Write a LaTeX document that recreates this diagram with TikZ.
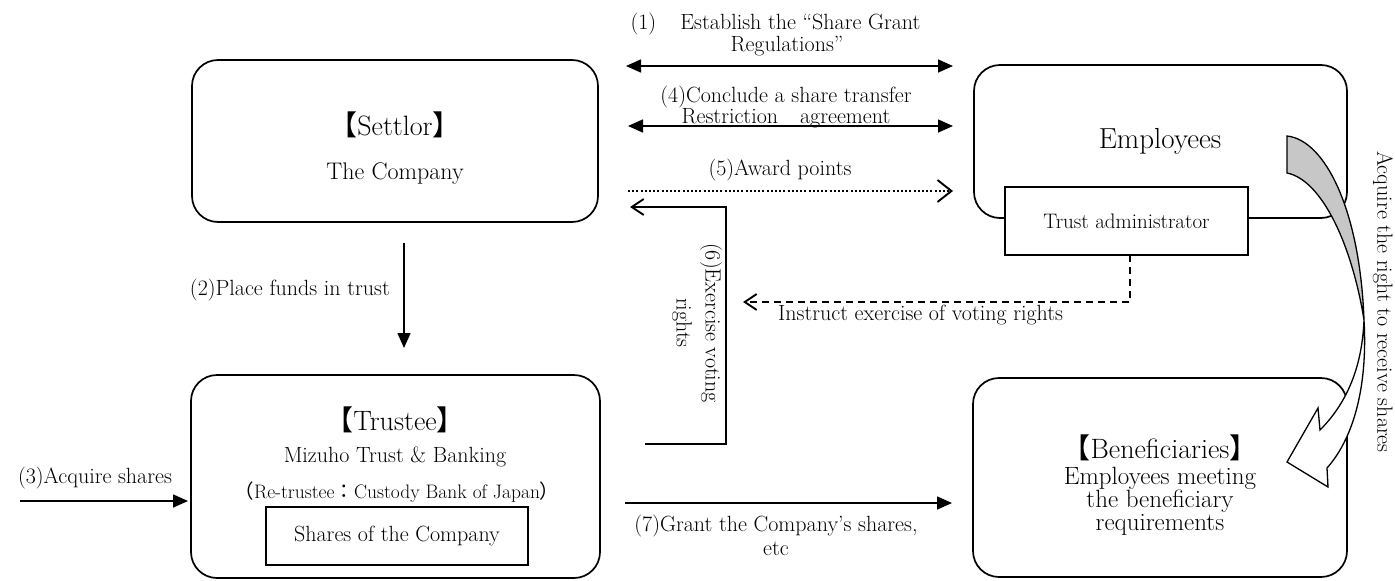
\documentclass[tikz,border=0pt]{standalone}
\usepackage{fontspec}
\newfontfamily\cjk{Noto Sans CJK JP}
\usetikzlibrary{arrows.meta}
\newcommand{\lb}{{\cjk 【}}
\newcommand{\rb}{{\cjk 】}}
\begin{document}
\begin{tikzpicture}[x=1pt,y=-1pt,
  bigbox/.style={draw, line width=1.7pt, rounded corners=26pt, fill=white, inner sep=0pt},
  sqbox/.style={draw, line width=1.7pt, fill=white, inner sep=0pt},
  txt/.style={inner sep=0pt, align=center},
  ttl/.style={txt, font=\fontsize{28}{30}\selectfont},
  body/.style={txt, font=\fontsize{24}{26}\selectfont},
  lbl/.style={txt, font=\fontsize{22}{22}\selectfont},
  conn/.style={line width=1.6pt},
  tri/.style={conn, -{Triangle[length=15pt,width=13pt]}},
  dtri/.style={conn, {Triangle[length=15pt,width=13pt]}-{Triangle[length=15pt,width=13pt]}},
  barb/.style={conn, -{Straight Barb[length=12pt,width=16pt,line width=1.9pt]}}
]
\useasboundingbox (0,0) rectangle (1395,581);

% boxes
\node[bigbox, minimum width=406pt, minimum height=162pt] (settlor) at (395,141) {};
\node[bigbox, minimum width=409pt, minimum height=203pt] (trustee) at (395.5,476.5) {};
\node[bigbox, minimum width=373pt, minimum height=153pt] (employees) at (1160.5,141.5) {};
\node[bigbox, minimum width=374pt, minimum height=199pt] (benef) at (1160,477.5) {};
\node[sqbox, minimum width=243pt, minimum height=68pt] (admin) at (1126.5,221) {};
\node[sqbox, minimum width=262pt, minimum height=58pt] (shares) at (397,536) {};

% box texts
\node[ttl] (settlorT) at (395,125) {\lb Settlor\rb};
\node[body] (settlorB) at (395,174) {The Company};
\node[ttl] (trusteeT) at (395,420) {\lb Trustee\rb};
\node[lbl] (trusteeB) at (395,457) {Mizuho Trust \& Banking};
\node[txt, font=\fontsize{19.5}{20}\selectfont] (retrustee) at (397,492) {{\cjk （}Re-trustee{\cjk ：}Custody Bank of Japan{\cjk ）}};
\node[lbl] (sharesT) at (397,536) {Shares of the Company};
\node[txt, font=\fontsize{29}{30}\selectfont] (employeesT) at (1160,141) {Employees};
\node[txt, font=\fontsize{21}{22}\selectfont] (adminT) at (1126.5,221) {Trust administrator};
\node[ttl] (benefT) at (1160,448) {\lb Beneficiaries\rb};
\node[txt, font=\fontsize{25}{23}\selectfont] (benefB) at (1160,501) {Employees meeting\\the beneficiary\\requirements};

% coordinates
\coordinate (a1l) at (626,66);  \coordinate (a1r) at (953,66);
\coordinate (a4l) at (628,126); \coordinate (a4r) at (953,126);
\coordinate (a5l) at (628,191); \coordinate (a5r) at (953,191);
\coordinate (a2t) at (404,243); \coordinate (a2b) at (404,348);
\coordinate (a3l) at (20,501);  \coordinate (a3r) at (188,501);
\coordinate (a7l) at (625,503); \coordinate (a7r) at (952,503);
\coordinate (a6s) at (645,444); \coordinate (a6c1) at (726,444);
\coordinate (a6c2) at (726,207); \coordinate (a6e) at (630,207);
\coordinate (dsa) at (1130,255); \coordinate (dc) at (1130,302); \coordinate (de) at (743,302);

% connectors
\draw[dtri] (a1l) -- (a1r);
\draw[dtri] (a4l) -- (a4r);
\draw[conn, line width=2pt, dash pattern=on 2pt off 2.2pt, -{Straight Barb[length=14pt,width=22pt,line width=1.9pt]}] (a5l) -- (a5r);
\draw[tri] (a2t) -- (a2b);
\draw[tri] (a3l) -- (a3r);
\draw[tri] (a7l) -- (a7r);
\draw[barb] (a6s) -- (a6c1) -- (a6c2) -- (a6e);
\draw[barb, dash pattern=on 7pt off 5pt] (dsa) -- (dc) -- (de);

% labels
\node[lbl] (l1a) at (775.5,24) {(1)\hspace{1.1em}Establish the “Share Grant};
\node[lbl] (l1b) at (787,46) {Regulations”};
\node[lbl, font=\fontsize{22}{20}\selectfont] (l4) at (786,107) {(4)Conclude a share transfer\\Restriction\quad agreement};
\node[lbl] (l5) at (780,170) {(5)Award points};
\node[lbl, anchor=east] (l2) at (390,290) {(2)Place funds in trust};
\node[lbl] (l3) at (95,478) {(3)Acquire shares};
\node[lbl, font=\fontsize{22}{24}\selectfont] (l7) at (776,535) {(7)Grant the Company’s shares,\\etc};
\node[lbl, font=\fontsize{22}{29}\selectfont, rotate=-90] (l6) at (697,323) {(6)Exercise voting\\rights};
\node[lbl, anchor=north west] (linstr) at (778,305) {Instruct exercise of voting rights};
\node[lbl, rotate=-90] (lacq) at (1383,302) {Acquire the right to receive shares};

% curved block arrow
\draw[line width=1.3pt, fill=black!22]
  (1287,136) .. controls (1325,140) and (1360,210) .. (1364,320)
  .. controls (1352,245) and (1322,180) .. (1287,173) -- cycle;
\draw[line width=1.3pt, fill=white, line join=miter]
  (1364,320) .. controls (1362,370) and (1345,405) .. (1320,430)
  -- (1318,408) -- (1287,462) -- (1328,487) -- (1327,468)
  .. controls (1352,440) and (1368,390) .. (1364,320) -- cycle;
\end{tikzpicture}
\end{document}
